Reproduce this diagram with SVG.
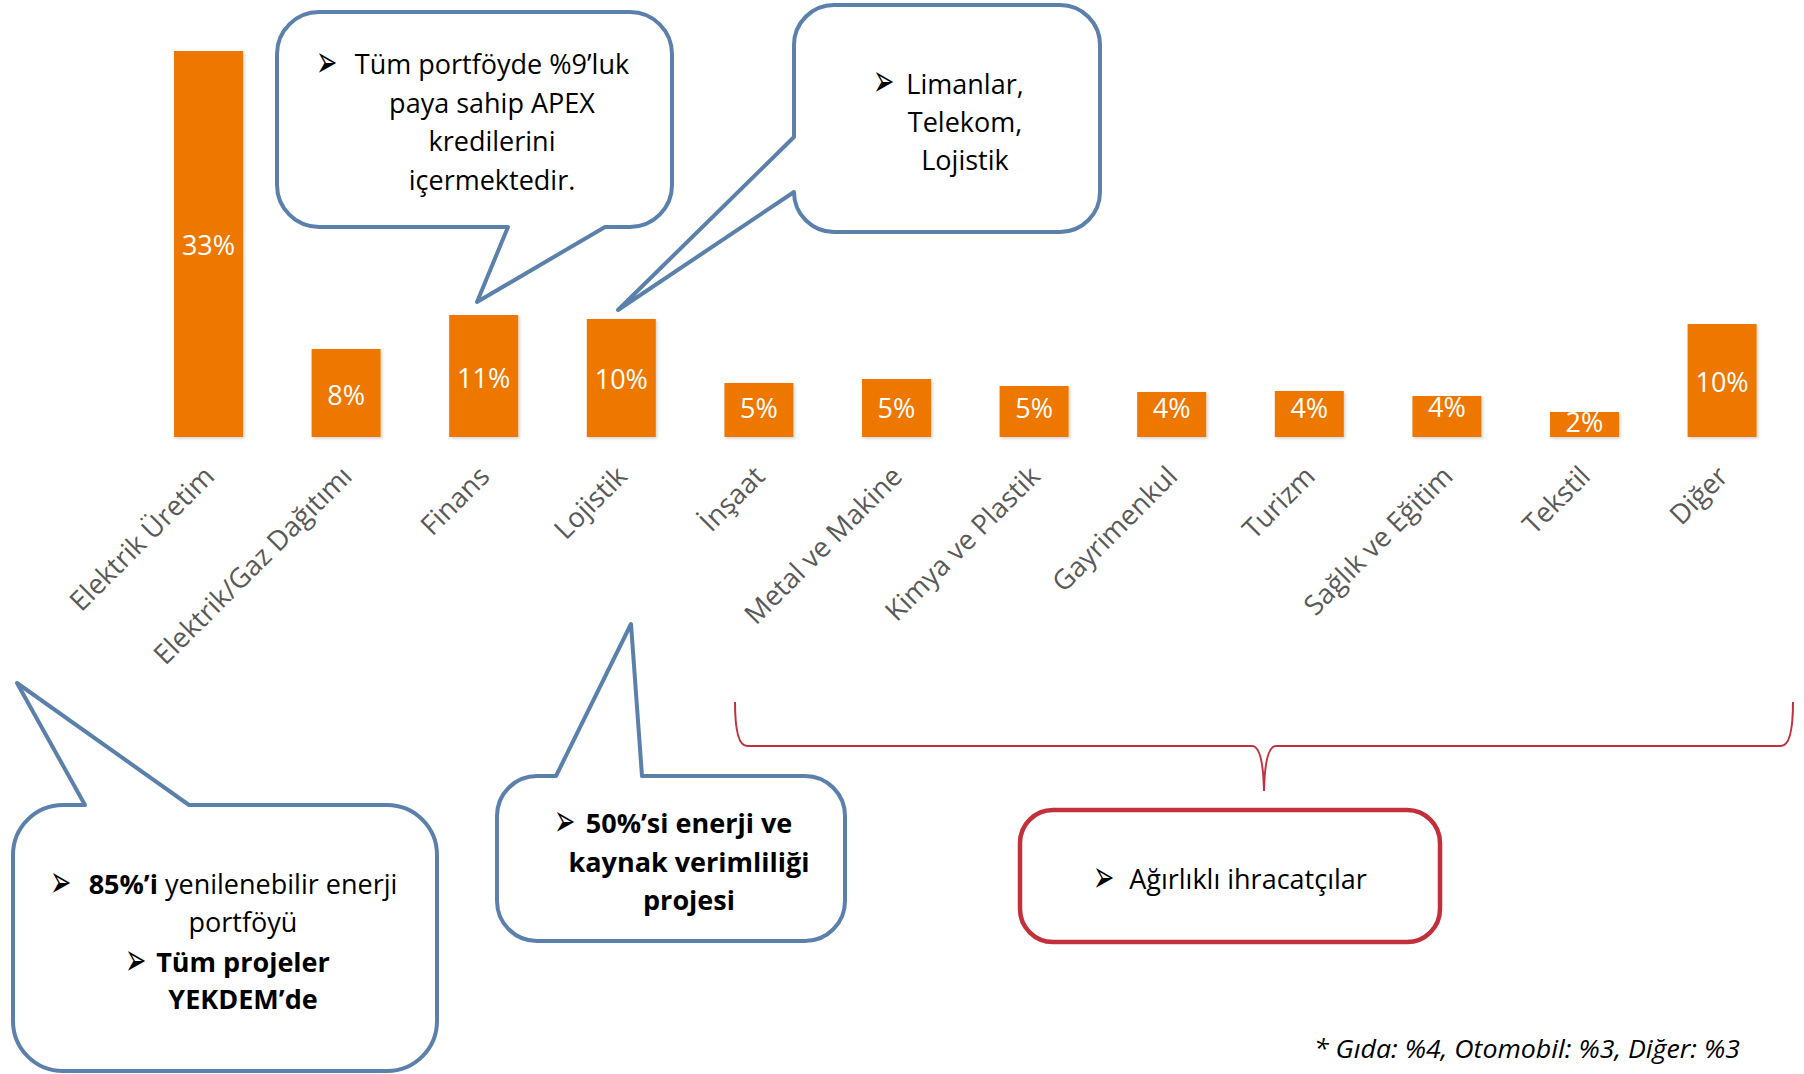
<svg xmlns="http://www.w3.org/2000/svg" width="1804" height="1074" viewBox="0 0 1804 1074">
<style>
.bar{fill:#EE7700}
.bl{font-family:"Open Sans","Liberation Sans",sans-serif;font-size:27px;fill:#FFFFFF;text-anchor:middle}
.ax{font-family:"Open Sans","Liberation Sans",sans-serif;font-size:27.5px;fill:#595959;text-anchor:end}
.co{fill:#FFFFFF;stroke:#5B80AB;stroke-width:4;stroke-linejoin:round}
.rd{fill:#FFFFFF;stroke:#C3303C;stroke-width:4.5}
.t{font-family:"Open Sans","Liberation Sans",sans-serif;font-size:27px;fill:#000000;text-anchor:middle}
.b{font-weight:bold}
.bu{font-family:"DejaVu Sans",sans-serif;font-size:30px;fill:#000000}
.fn{font-family:"Open Sans","Liberation Sans",sans-serif;font-size:25px;font-style:italic;fill:#000000;text-anchor:end}
</style>
<defs>
<filter id="sh" x="-20%" y="-20%" width="140%" height="140%">
<feDropShadow dx="1.5" dy="1.5" stdDeviation="1.5" flood-color="#000000" flood-opacity="0.18"/>
</filter>
</defs>
<rect width="1804" height="1074" fill="#FFFFFF"/>

<g id="chart">
<line x1="139" y1="437.5" x2="1790" y2="437.5" stroke="#D9D9D9" stroke-width="2.5" filter="url(#sh)"/>
<g id="bars" filter="url(#sh)">
<rect class="bar" x="174" y="51" width="69" height="386"/>
<rect class="bar" x="311.6" y="349" width="69" height="88"/>
<rect class="bar" x="449.2" y="315" width="69" height="122"/>
<rect class="bar" x="586.8" y="319" width="69" height="118"/>
<rect class="bar" x="724.4" y="383" width="69" height="54"/>
<rect class="bar" x="862" y="379" width="69" height="58"/>
<rect class="bar" x="999.6" y="386" width="69" height="51"/>
<rect class="bar" x="1137.2" y="392" width="69" height="45"/>
<rect class="bar" x="1274.8" y="391" width="69" height="46"/>
<rect class="bar" x="1412.4" y="396" width="69" height="41"/>
<rect class="bar" x="1550" y="412" width="69" height="25"/>
<rect class="bar" x="1687.6" y="324" width="69" height="113"/>
</g>
<g id="bar-labels">
<text class="bl" x="208.5" y="255">33%</text>
<text class="bl" x="346.1" y="405">8%</text>
<text class="bl" x="483.7" y="388">11%</text>
<text class="bl" x="621.3" y="389">10%</text>
<text class="bl" x="758.9" y="418">5%</text>
<text class="bl" x="896.5" y="418">5%</text>
<text class="bl" x="1034.1" y="418">5%</text>
<text class="bl" x="1171.7" y="418">4%</text>
<text class="bl" x="1309.3" y="418">4%</text>
<text class="bl" x="1446.9" y="417">4%</text>
<text class="bl" x="1584.5" y="432">2%</text>
<text class="bl" x="1722.1" y="392">10%</text>
</g>
<g id="axis-labels">
<text class="ax" x="216" y="478" transform="rotate(-45 216 478)">Elektrik Üretim</text>
<text class="ax" x="353.6" y="478" transform="rotate(-45 353.6 478)">Elektrik/Gaz Dağıtımı</text>
<text class="ax" x="491.2" y="478" transform="rotate(-45 491.2 478)">Finans</text>
<text class="ax" x="628.8" y="478" transform="rotate(-45 628.8 478)">Lojistik</text>
<text class="ax" x="766.4" y="478" transform="rotate(-45 766.4 478)">İnşaat</text>
<text class="ax" x="904" y="478" transform="rotate(-45 904 478)">Metal ve Makine</text>
<text class="ax" x="1041.6" y="478" transform="rotate(-45 1041.6 478)">Kimya ve Plastik</text>
<text class="ax" x="1179.2" y="478" transform="rotate(-45 1179.2 478)">Gayrimenkul</text>
<text class="ax" x="1316.8" y="478" transform="rotate(-45 1316.8 478)">Turizm</text>
<text class="ax" x="1454.4" y="478" transform="rotate(-45 1454.4 478)">Sağlık ve Eğitim</text>
<text class="ax" x="1592" y="478" transform="rotate(-45 1592 478)">Tekstil</text>
<text class="ax" x="1729.6" y="478" transform="rotate(-45 1729.6 478)">Diğer</text>
</g>
</g>

<g id="connectors">
<path id="brace" d="M735,702 Q735,746 747,746 L1252,746 Q1263,746 1264,791 Q1265,746 1276,746 L1781,746 Q1793,746 1793,702" fill="none" stroke="#C3303C" stroke-width="2"/>
</g>

<g id="callout-apex">
<path class="co" d="M319,12 H630 A42,42 0 0 1 672,54 V185 A42,42 0 0 1 630,227 H605 L477,302 L508,227 H319 A42,42 0 0 1 277,185 V54 A42,42 0 0 1 319,12 Z"/>
<text class="bu" transform="translate(316 77) scale(0.85 1.5)">➢</text>
<text class="t" x="492" y="74">Tüm portföyde %9’luk</text>
<text class="t" x="492" y="113">paya sahip APEX</text>
<text class="t" x="492" y="151">kredilerini</text>
<text class="t" x="492" y="190">içermektedir.</text>
</g>

<g id="callout-lojistik">
<path class="co" d="M834,5 H1060 A40,40 0 0 1 1100,45 V192 A40,40 0 0 1 1060,232 H834 A40,40 0 0 1 794,192 L618,310 L794,137 V45 A40,40 0 0 1 834,5 Z"/>
<text class="bu" transform="translate(873 96) scale(0.85 1.5)">➢</text>
<text class="t" x="965" y="94">Limanlar,</text>
<text class="t" x="965" y="132">Telekom,</text>
<text class="t" x="965" y="170">Lojistik</text>
</g>

<g id="callout-yekdem">
<path class="co" d="M63,805 H85 L17,683 L189,805 H387 A50,50 0 0 1 437,855 V1021 A50,50 0 0 1 387,1071 H63 A50,50 0 0 1 13,1021 V855 A50,50 0 0 1 63,805 Z"/>
<text class="bu" transform="translate(50 897) scale(0.85 1.5)">➢</text>
<text class="t" x="243" y="894"><tspan class="b">85%’i</tspan> yenilenebilir enerji</text>
<text class="t" x="243" y="932">portföyü</text>
<text class="bu" transform="translate(125 975) scale(0.85 1.5)">➢</text>
<text class="t b" x="243" y="972">Tüm projeler</text>
<text class="t b" x="243" y="1009">YEKDEM’de</text>
</g>

<g id="callout-enerji">
<path class="co" d="M537,776 H556 L631,624 L642,776 H805 A40,40 0 0 1 845,816 V901 A40,40 0 0 1 805,941 H537 A40,40 0 0 1 497,901 V816 A40,40 0 0 1 537,776 Z"/>
<text class="bu" transform="translate(554 836) scale(0.85 1.5)">➢</text>
<text class="t b" x="689" y="833">50%’si enerji ve</text>
<text class="t b" x="689" y="872">kaynak verimliliği</text>
<text class="t b" x="689" y="910">projesi</text>
</g>

<g id="box-ihracat">
<rect class="rd" x="1020" y="810" width="420" height="132" rx="33"/>
<text class="bu" transform="translate(1093 892) scale(0.85 1.5)">➢</text>
<text class="t" x="1248" y="889">Ağırlıklı ihracatçılar</text>
</g>

<g id="footnote">
<text class="fn" x="1740" y="1058" textLength="426" lengthAdjust="spacingAndGlyphs">* Gıda: %4, Otomobil: %3, Diğer: %3</text>
</g>
</svg>
